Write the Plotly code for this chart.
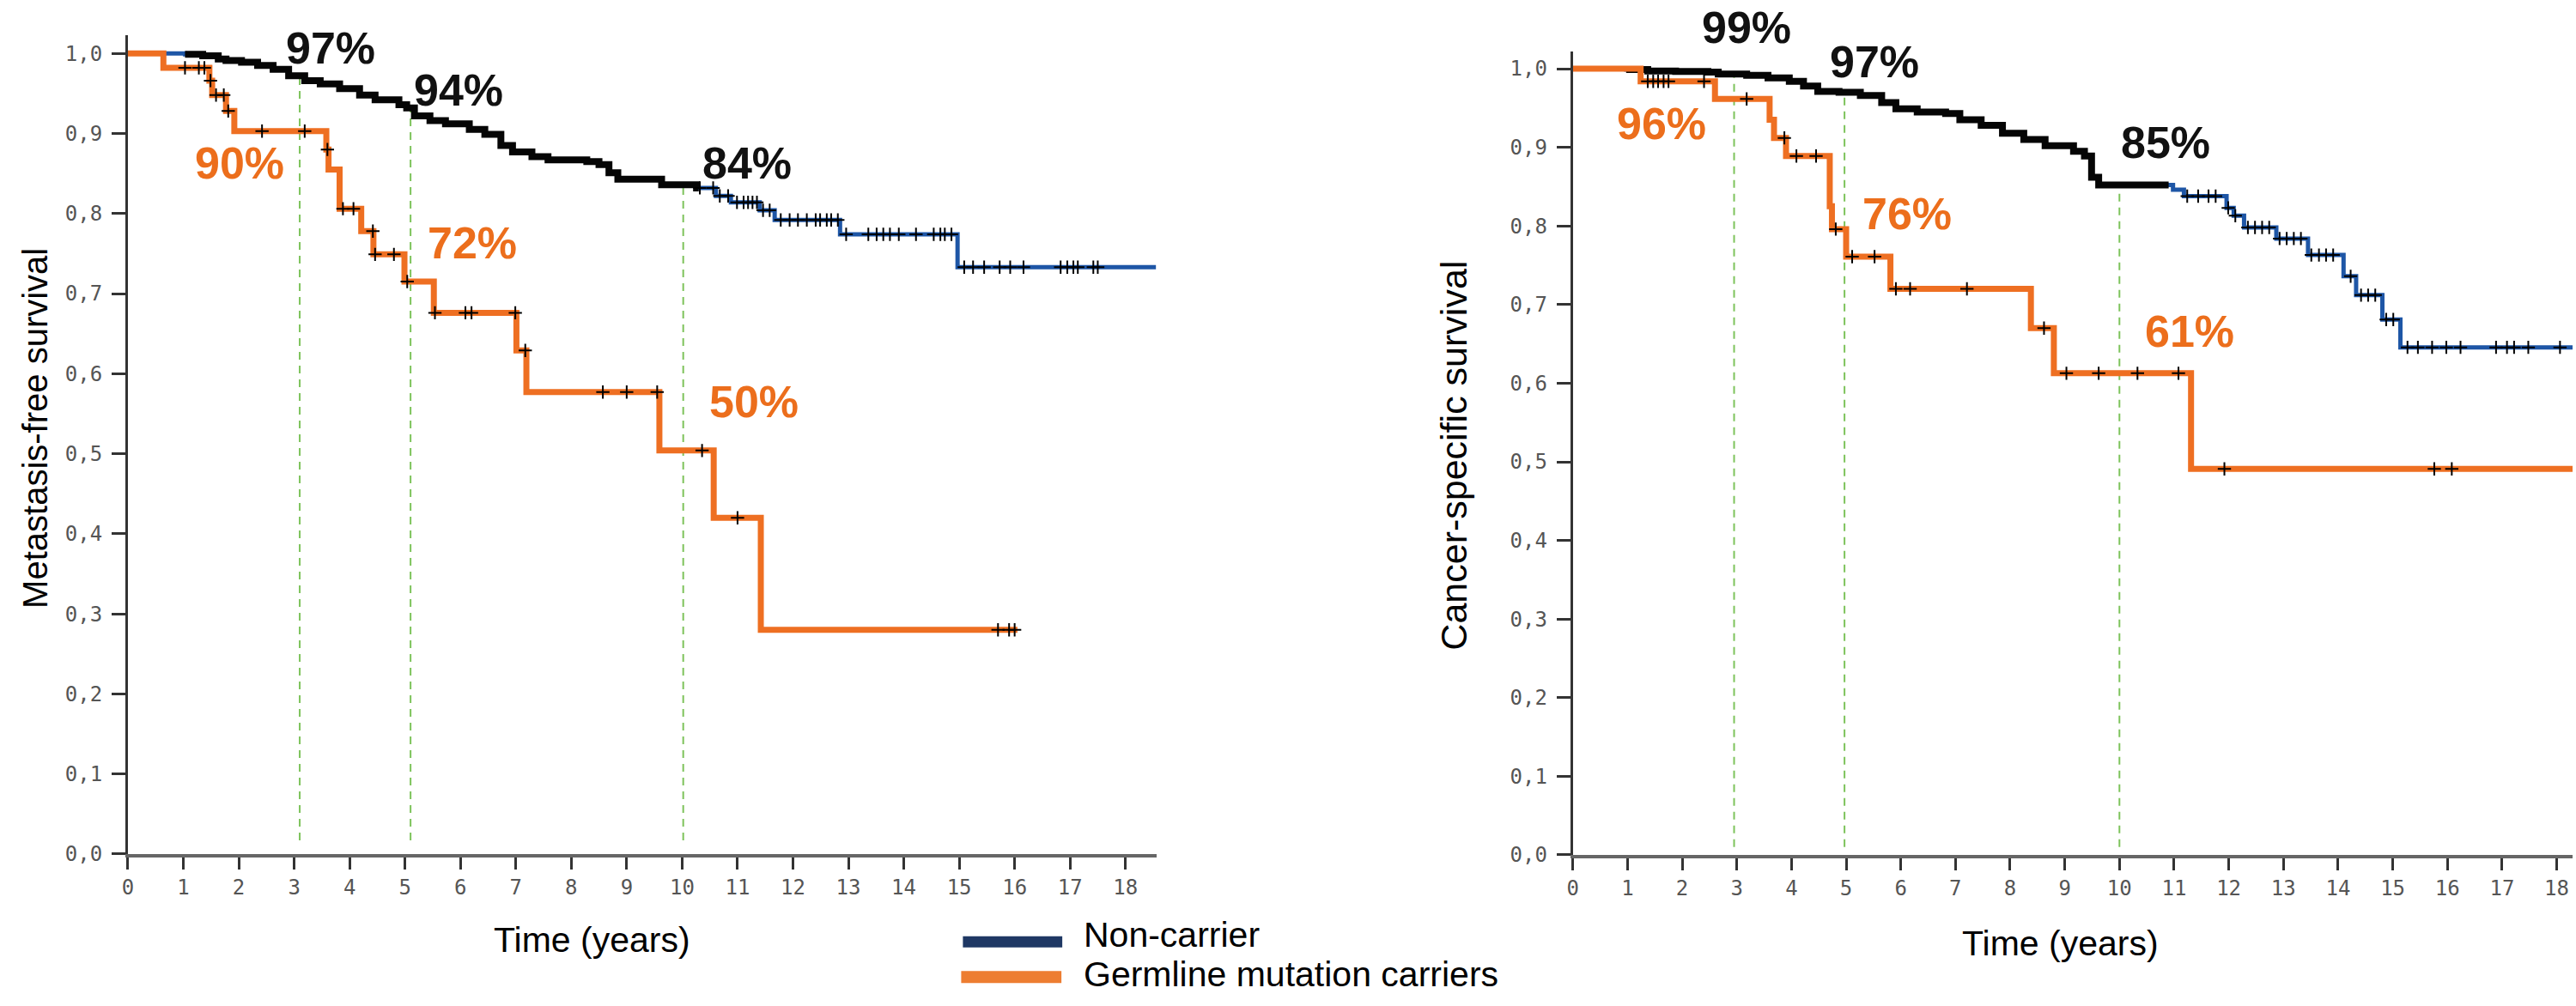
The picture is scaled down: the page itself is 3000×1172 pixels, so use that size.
import bisect
import plotly.graph_objects as go

W, H = 3000, 1172

# ---------------- data ----------------
X_TICKS = list(range(0, 19))
Y_TICKS = [i / 10 for i in range(0, 11)]
Y_TICK_TEXT = ["0,0", "0,1", "0,2", "0,3", "0,4", "0,5", "0,6", "0,7", "0,8", "0,9", "1,0"]

# Left panel: metastasis-free survival
L_NC_T = [0, 1.03, 1.35, 1.63, 1.77, 2.05, 2.34, 2.62, 2.90, 3.19, 3.47, 3.82, 4.18, 4.46, 4.89,
          5.03, 5.17, 5.45, 5.73, 6.16, 6.44, 6.73, 6.94, 7.29, 7.58, 8.28, 8.50, 8.68, 8.84,
          9.63, 10.26, 10.61, 10.88, 11.40, 11.67, 12.85, 14.97, 18.55]
L_NC_S = [1.0, 0.999, 0.997, 0.993, 0.991, 0.989, 0.985, 0.980, 0.972, 0.966, 0.962, 0.956, 0.948,
          0.942, 0.936, 0.932, 0.922, 0.916, 0.912, 0.905, 0.899, 0.885, 0.877, 0.871, 0.867,
          0.865, 0.861, 0.851, 0.843, 0.836, 0.832, 0.822, 0.814, 0.804, 0.792, 0.774, 0.733, 0.733]
L_NC_DENSE = [1.03, 10.3]
L_NC_CENS = [10.32, 10.56, 10.68, 10.83, 10.99, 11.11, 11.19, 11.27, 11.35, 11.46, 11.58, 11.78,
             11.94, 12.09, 12.25, 12.41, 12.49, 12.61, 12.69, 12.81, 12.96, 13.36, 13.51, 13.63,
             13.75, 13.91, 14.22, 14.54, 14.66, 14.74, 14.86, 15.09, 15.25, 15.45, 15.73, 15.92,
             16.16, 16.83, 16.95, 17.06, 17.14, 17.42, 17.50]

L_CAR_T = [0, 0.64, 1.47, 1.52, 1.77, 1.92, 3.58, 3.62, 3.82, 4.21, 4.43, 4.99, 5.52, 7.01, 7.19,
           9.59, 10.57, 11.42, 16.05]
L_CAR_S = [1.0, 0.982, 0.966, 0.948, 0.928, 0.903, 0.880, 0.855, 0.806, 0.778, 0.749, 0.715, 0.676,
           0.629, 0.577, 0.504, 0.420, 0.280, 0.280]
L_CAR_CENS = [1.03, 1.28, 1.38, 1.49, 1.59, 1.73, 1.81, 2.42, 3.19, 3.60, 3.88, 4.07, 4.42, 4.46,
              4.80, 5.04, 5.54, 6.09, 6.20, 6.99, 7.17, 8.57, 9.00, 9.55, 10.36, 11.00, 15.70,
              15.90, 16.00]

L_VLINES = [3.1, 5.1, 10.02]
L_LABELS = ["97%", "94%", "84%", "90%", "72%", "50%"]
L_LABEL_X = [3.66, 5.96, 11.17, 2.02, 6.21, 11.29]
L_LABEL_Y = [1.007, 0.954, 0.863, 0.863, 0.763, 0.565]
L_LABEL_GROUP = ["nc", "nc", "nc", "car", "car", "car"]

# Right panel: cancer-specific survival
R_NC_T = [0, 0.975, 1.37, 1.88, 2.47, 2.66, 3.18, 3.57, 3.96, 4.22, 4.48, 4.87, 5.26, 5.65, 5.91,
          6.30, 6.82, 7.08, 7.47, 7.86, 8.25, 8.64, 9.16, 9.36, 9.49, 9.62, 10.98, 11.18, 11.96,
          12.09, 12.28, 12.87, 13.45, 14.10, 14.33, 14.81, 15.14, 18.29]
R_NC_S = [1.0, 0.999, 0.997, 0.9966, 0.9957, 0.9932, 0.9916, 0.9883, 0.984, 0.978, 0.971, 0.970,
          0.966, 0.957, 0.949, 0.945, 0.943, 0.935, 0.928, 0.918, 0.910, 0.902, 0.895, 0.889,
          0.862, 0.852, 0.846, 0.838, 0.823, 0.813, 0.798, 0.784, 0.763, 0.736, 0.712, 0.681,
          0.6456, 0.6456]
R_NC_DENSE = [0.975, 10.9]
R_NC_CENS = [11.24, 11.44, 11.63, 11.76, 11.99, 12.12, 12.35, 12.48, 12.61, 12.74, 12.93, 13.06,
             13.19, 13.32, 13.51, 13.65, 13.78, 13.91, 14.23, 14.42, 14.55, 14.68, 14.88, 15.01,
             15.27, 15.46, 15.72, 15.98, 16.24, 16.89, 17.09, 17.22, 17.48, 18.06]

R_CAR_T = [0, 1.24, 2.60, 3.60, 3.68, 3.90, 4.70, 4.74, 5.00, 5.81, 8.38, 8.80, 11.31, 18.29]
R_CAR_S = [1.0, 0.984, 0.9615, 0.935, 0.912, 0.889, 0.825, 0.796, 0.761, 0.720, 0.670, 0.6126,
           0.491, 0.491]
R_CAR_CENS = [1.37, 1.47, 1.56, 1.66, 1.75, 2.40, 3.18, 3.87, 4.09, 4.45, 4.81, 5.11, 5.52, 5.91,
              6.17, 7.21, 8.62, 9.03, 9.62, 10.33, 11.08, 11.92, 15.76, 16.08]

R_VLINES = [2.95, 4.97, 10.0]
R_LABELS = ["99%", "97%", "85%", "96%", "76%", "61%"]
R_LABEL_X = [3.18, 5.52, 10.85, 1.62, 6.11, 11.28]
R_LABEL_Y = [1.052, 1.009, 0.906, 0.9305, 0.815, 0.666]
R_LABEL_GROUP = ["nc", "nc", "nc", "car", "car", "car"]

SERIES = ["Non-carrier", "Germline mutation carriers"]
Y_TITLES = ["Metastasis-free survival", "Cancer-specific survival"]
X_TITLE = "Time (years)"

# ---------------- styling ----------------
BLUE = "#1E56A6"
NAVY = "#1F3864"
ORANGE = "#EE6F22"
LEG_ORANGE = "#ED7D31"
LBL_ORANGE = "#EC6E1C"
GREEN = "#7DC35B"
TXT = "Liberation Sans, Arial, sans-serif"
MONO = "DejaVu Sans Mono, monospace"

# axis geometry (pixels of the 3000x1172 canvas)
L_XDOM = [142.3 / W, 1343 / W]
L_XRNG = [0, 18.56]
L_YDOM = [1 - 1007 / H, 1 - 42 / H]
L_YRNG = [0, 1.0222]
R_XDOM = [1829 / W, 2996 / W]
R_XRNG = [0, 18.29]
R_YDOM = [1 - 1008 / H, 1 - 61 / H]
R_YRNG = [0, 1.0216]


def km_at(T, S, t):
    i = bisect.bisect_right(T, t) - 1
    return S[max(i, 0)]


def segment(T, S, a, b):
    xs = [a] + [t for t in T if a < t < b] + [b]
    return xs, [km_at(T, S, x) for x in xs]


def to_paper(v, dom, rng):
    return dom[0] + (v - rng[0]) / (rng[1] - rng[0]) * (dom[1] - dom[0])


fig = go.Figure()

panels = [
    dict(xa="x", ya="y", nc=(L_NC_T, L_NC_S), dense=L_NC_DENSE, ncc=L_NC_CENS,
         car=(L_CAR_T, L_CAR_S), carc=L_CAR_CENS),
    dict(xa="x2", ya="y2", nc=(R_NC_T, R_NC_S), dense=R_NC_DENSE, ncc=R_NC_CENS,
         car=(R_CAR_T, R_CAR_S), carc=R_CAR_CENS),
]

for p in panels:
    T, S = p["nc"]
    fig.add_trace(go.Scatter(x=T, y=S, mode="lines", line=dict(color=BLUE, width=5, shape="hv"),
                             xaxis=p["xa"], yaxis=p["ya"], name=SERIES[0], hoverinfo="skip"))
    dx, dy = segment(T, S, p["dense"][0], p["dense"][1])
    fig.add_trace(go.Scatter(x=dx, y=dy, mode="lines", line=dict(color="#050505", width=8, shape="hv"),
                             xaxis=p["xa"], yaxis=p["ya"], name=SERIES[0] + " (censored)",
                             hoverinfo="skip"))
    CT, CS = p["car"]
    fig.add_trace(go.Scatter(x=CT, y=CS, mode="lines", line=dict(color=ORANGE, width=7, shape="hv"),
                             xaxis=p["xa"], yaxis=p["ya"], name=SERIES[1], hoverinfo="skip"))
    fig.add_trace(go.Scatter(x=p["ncc"], y=[km_at(T, S, t) for t in p["ncc"]], mode="markers",
                             marker=dict(symbol="cross-thin", size=11, line=dict(color="black", width=2)),
                             xaxis=p["xa"], yaxis=p["ya"], hoverinfo="skip"))
    fig.add_trace(go.Scatter(x=p["carc"], y=[km_at(CT, CS, t) for t in p["carc"]], mode="markers",
                             marker=dict(symbol="cross-thin", size=11, line=dict(color="black", width=2)),
                             xaxis=p["xa"], yaxis=p["ya"], hoverinfo="skip"))

# dashed reference lines
shapes = []
for vt, (T, S), xr, yr, y0 in [(L_VLINES, (L_NC_T, L_NC_S), "x", "y", 0.017),
                                (R_VLINES, (R_NC_T, R_NC_S), "x2", "y2", 0.010)]:
    for t in vt:
        shapes.append(dict(type="line", xref=xr, yref=yr, x0=t, x1=t, y0=y0, y1=km_at(T, S, t),
                           line=dict(color=GREEN, width=2, dash="9px,7px"), layer="below"))

# legend (drawn as bars + text)
shapes.append(dict(type="rect", xref="paper", yref="paper", x0=1117 / W, x1=1233 / W,
                   y0=1 - 1117 / H, y1=1 - 1104 / H, fillcolor=NAVY, line=dict(width=0)))
shapes.append(dict(type="rect", xref="paper", yref="paper", x0=1115 / W, x1=1232 / W,
                   y0=1 - 1159 / H, y1=1 - 1145 / H, fillcolor=LEG_ORANGE, line=dict(width=0)))

ann = []
for labels, xs, ys, grp, xd, xrg, yd, yrg in [
        (L_LABELS, L_LABEL_X, L_LABEL_Y, L_LABEL_GROUP, L_XDOM, L_XRNG, L_YDOM, L_YRNG),
        (R_LABELS, R_LABEL_X, R_LABEL_Y, R_LABEL_GROUP, R_XDOM, R_XRNG, R_YDOM, R_YRNG)]:
    for lab, x, y, g in zip(labels, xs, ys, grp):
        ann.append(dict(text="<b>%s</b>" % lab, x=to_paper(x, xd, xrg), y=to_paper(y, yd, yrg),
                        xref="paper", yref="paper", showarrow=False,
                        xanchor="center", yanchor="middle", borderpad=0,
                        font=dict(family=TXT, size=52, color="#111111" if g == "nc" else LBL_ORANGE)))

ann += [
    dict(text=Y_TITLES[0], x=34 / W, y=1 - 505 / H, xref="paper", yref="paper", showarrow=False,
         textangle=-90, xanchor="center", yanchor="middle", font=dict(family=TXT, size=40, color="black")),
    dict(text=Y_TITLES[1], x=1690 / W, y=1 - 537 / H, xref="paper", yref="paper", showarrow=False,
         textangle=-90, xanchor="center", yanchor="middle", font=dict(family=TXT, size=43, color="black")),
    dict(text=X_TITLE, x=684 / W, y=1 - 1108 / H, xref="paper", yref="paper", showarrow=False,
         xanchor="center", yanchor="middle", font=dict(family=TXT, size=41, color="black")),
    dict(text=X_TITLE, x=2398 / W, y=1 - 1112 / H, xref="paper", yref="paper", showarrow=False,
         xanchor="center", yanchor="middle", font=dict(family=TXT, size=41, color="black")),
    dict(text=SERIES[0], x=1256 / W, y=1 - 1102 / H, xref="paper", yref="paper", showarrow=False,
         xanchor="left", yanchor="middle", font=dict(family=TXT, size=41, color="black")),
    dict(text=SERIES[1], x=1256 / W, y=1 - 1149 / H, xref="paper", yref="paper", showarrow=False,
         xanchor="left", yanchor="middle", font=dict(family=TXT, size=41, color="black")),
]


def xaxis(domain, rng):
    return dict(domain=domain, range=rng, tickmode="array", tickvals=X_TICKS,
                ticktext=[str(v) for v in X_TICKS], ticks="outside", ticklen=14, tickwidth=3,
                tickcolor="#333333", showline=True, linecolor="#666666", linewidth=4,
                showgrid=False, zeroline=False, fixedrange=True,
                tickfont=dict(family=MONO, size=24, color="#555555"))


def yaxis(domain, rng, anchor):
    return dict(domain=domain, range=rng, anchor=anchor, tickmode="array", tickvals=Y_TICKS,
                ticktext=Y_TICK_TEXT, ticks="outside", ticklen=16, tickwidth=3, tickcolor="#333333",
                showline=True, linecolor="#333333", linewidth=3, showgrid=False, zeroline=False,
                fixedrange=True, ticklabelstandoff=6,
                tickfont=dict(family=MONO, size=24, color="#555555"))


fig.update_layout(
    width=W, height=H, margin=dict(l=0, r=0, t=0, b=0),
    paper_bgcolor="white", plot_bgcolor="white", showlegend=False,
    xaxis=dict(**xaxis(L_XDOM, L_XRNG), anchor="y"),
    yaxis=yaxis(L_YDOM, L_YRNG, "x"),
    xaxis2=dict(**xaxis(R_XDOM, R_XRNG), anchor="y2"),
    yaxis2=yaxis(R_YDOM, R_YRNG, "x2"),
    shapes=shapes, annotations=ann,
)

fig.write_html("out.html", config={"displayModeBar": False},
               post_script="document.body.style.margin='0';document.body.style.overflow='hidden';")
